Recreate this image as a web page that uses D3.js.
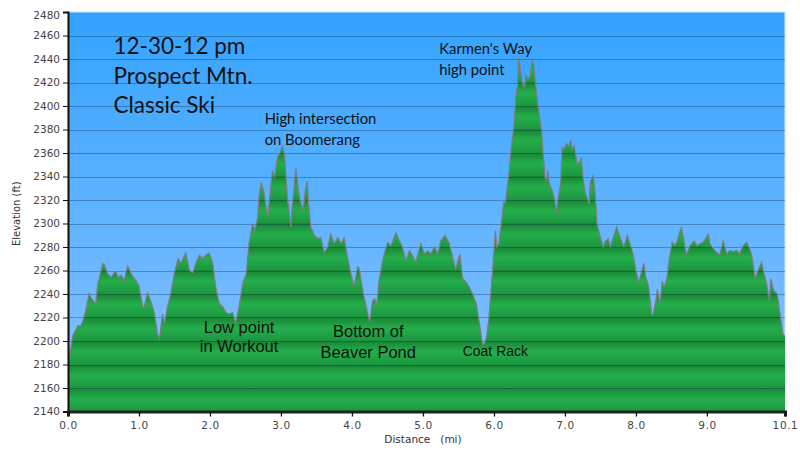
<!DOCTYPE html>
<html><head><meta charset="utf-8">
<script src="https://cdn.jsdelivr.net/npm/d3@7"></script>
<style>html,body{margin:0;padding:0;background:#fff;}svg{display:block;}</style>
</head><body>
<svg id="chart" width="800" height="460"></svg>
<script>
const distance = [0.00,0.03,0.07,0.09,0.14,0.18,0.21,0.25,0.30,0.32,0.37,0.39,0.42,0.44,0.49,0.51,0.56,0.61,0.65,0.68,0.70,0.75,0.79,0.84,0.89,0.96,1.00,1.05,1.07,1.12,1.17,1.22,1.26,1.29,1.33,1.36,1.40,1.45,1.50,1.55,1.59,1.66,1.71,1.76,1.80,1.85,1.90,1.94,1.99,2.04,2.08,2.13,2.18,2.23,2.27,2.32,2.36,2.41,2.46,2.51,2.55,2.60,2.63,2.67,2.69,2.72,2.76,2.81,2.84,2.88,2.91,2.95,3.00,3.02,3.05,3.09,3.14,3.16,3.21,3.26,3.31,3.35,3.37,3.39,3.42,3.47,3.52,3.56,3.61,3.66,3.70,3.75,3.80,3.85,3.89,3.94,3.99,4.03,4.08,4.10,4.15,4.20,4.25,4.29,4.32,4.35,4.38,4.43,4.50,4.55,4.62,4.67,4.71,4.76,4.81,4.85,4.90,4.97,5.02,5.07,5.11,5.16,5.21,5.25,5.31,5.37,5.42,5.46,5.52,5.56,5.61,5.65,5.70,5.75,5.79,5.84,5.87,5.90,5.93,5.98,6.02,6.04,6.07,6.12,6.14,6.16,6.21,6.24,6.28,6.31,6.33,6.35,6.38,6.40,6.43,6.45,6.48,6.51,6.54,6.56,6.59,6.61,6.63,6.67,6.69,6.72,6.74,6.76,6.78,6.82,6.85,6.88,6.90,6.94,6.96,6.99,7.02,7.06,7.08,7.10,7.13,7.15,7.17,7.21,7.23,7.25,7.28,7.31,7.34,7.36,7.40,7.43,7.45,7.50,7.54,7.57,7.61,7.64,7.68,7.73,7.76,7.81,7.83,7.88,7.93,7.96,8.00,8.04,8.07,8.11,8.14,8.18,8.22,8.24,8.28,8.30,8.34,8.37,8.40,8.44,8.46,8.51,8.55,8.58,8.64,8.68,8.71,8.76,8.82,8.86,8.91,8.95,9.02,9.04,9.11,9.18,9.23,9.28,9.32,9.37,9.42,9.46,9.51,9.56,9.61,9.64,9.68,9.72,9.77,9.80,9.84,9.88,9.90,9.94,9.99,10.03,10.07,10.10];
const elevation = [2177,2190,2205,2207,2213,2213,2217,2226,2241,2237,2233,2232,2249,2253,2266,2265,2257,2254,2258,2259,2254,2256,2251,2264,2257,2251,2247,2230,2228,2241,2233,2223,2206,2202,2223,2215,2229,2241,2258,2270,2266,2275,2260,2258,2266,2273,2270,2273,2275,2266,2246,2232,2229,2224,2223,2224,2215,2229,2249,2257,2283,2300,2294,2304,2322,2335,2327,2305,2321,2345,2339,2356,2362,2366,2358,2322,2297,2315,2347,2322,2311,2331,2336,2315,2297,2290,2287,2288,2275,2280,2291,2283,2288,2283,2288,2270,2256,2246,2263,2262,2244,2229,2216,2234,2236,2230,2251,2268,2284,2281,2292,2285,2280,2268,2277,2273,2267,2283,2274,2277,2274,2280,2274,2285,2290,2283,2271,2261,2274,2253,2250,2246,2240,2232,2217,2197,2198,2205,2220,2260,2294,2280,2283,2308,2319,2317,2342,2362,2382,2408,2416,2441,2427,2419,2416,2426,2422,2426,2439,2434,2416,2406,2396,2379,2362,2339,2336,2345,2334,2328,2322,2308,2320,2334,2365,2363,2368,2366,2371,2363,2366,2359,2351,2352,2356,2342,2328,2322,2317,2336,2341,2322,2300,2288,2280,2285,2287,2280,2288,2297,2291,2283,2280,2290,2280,2274,2260,2249,2257,2266,2254,2246,2223,2222,2234,2244,2232,2251,2246,2254,2266,2284,2281,2285,2297,2284,2273,2281,2285,2281,2283,2284,2291,2283,2277,2273,2285,2274,2277,2276,2277,2274,2281,2284,2277,2270,2253,2260,2267,2258,2249,2234,2253,2243,2240,2223,2206,2204];
const yTicks = [2140,2160,2180,2200,2220,2240,2260,2280,2300,2320,2340,2360,2380,2400,2420,2440,2460,2480];
const xTicks = [0,1,2,3,4,5,6,7,8,9,10.1];
const titleLines = ["12-30-12 pm","Prospect Mtn.","Classic Ski"];
const notes = [
  {lines:["High intersection","on Boomerang"], d:2.77, e:2385, font:"Lato", size:14.8, anchor:"start", lh:21},
  {lines:["Karmen's Way","high point"], d:5.23, e:2444, font:"Lato", size:14.8, anchor:"start", lh:20.5},
  {lines:["Low point","in Workout"], d:2.41, e:2207, font:"Liberation Sans", size:16.5, anchor:"middle", lh:19.5},
  {lines:["Bottom of","Beaver Pond"], d:4.23, e:2203, font:"Liberation Sans", size:16.5, anchor:"middle", lh:20.5},
  {lines:["Coat Rack"], d:6.02, e:2187, font:"Liberation Sans", size:14, anchor:"middle", lh:18}
];

const svg = d3.select("#chart");
const M = {left:68, right:785, top:12, bottom:411.5};
const x = d3.scaleLinear().domain([0,10.1]).range([M.left,M.right]);
const y = d3.scaleLinear().domain([2140,2480]).range([M.bottom,M.top]);
const data = distance.map((d,i)=>({d, e:elevation[i]}));

const defs = svg.append("defs");
const bg = defs.append("linearGradient").attr("id","sky").attr("x1",0).attr("y1",0).attr("x2",0).attr("y2",1);
bg.append("stop").attr("offset","0%").attr("stop-color","#33a3ff");
bg.append("stop").attr("offset","100%").attr("stop-color","#8cc3ff");
const gg = defs.append("linearGradient").attr("id","grass").attr("gradientUnits","userSpaceOnUse")
  .attr("x1",0).attr("x2",0).attr("y1",y(2160)).attr("y2",y(2140)).attr("spreadMethod","repeat");
gg.append("stop").attr("offset","0%").attr("stop-color","#198535");
gg.append("stop").attr("offset","45%").attr("stop-color","#24ae4b");
gg.append("stop").attr("offset","100%").attr("stop-color","#1c9640");
defs.append("clipPath").attr("id","clip").append("rect")
  .attr("x",M.left).attr("y",M.top).attr("width",M.right-M.left).attr("height",M.bottom-M.top);

svg.append("rect").attr("x",M.left).attr("y",M.top).attr("width",M.right-M.left).attr("height",M.bottom-M.top)
  .attr("fill","url(#sky)").attr("stroke","#d8e4ee").attr("stroke-width",1);

const g = svg.append("g").attr("clip-path","url(#clip)");
const area = d3.area().x(p=>x(p.d)).y0(M.bottom).y1(p=>y(p.e));
const line = d3.line().x(p=>x(p.d)).y(p=>y(p.e));
g.append("path").datum(data).attr("d",area).attr("fill","url(#grass)");
g.selectAll("line.grid").data(yTicks.slice(1,-1)).join("line").attr("class","grid")
  .attr("x1",M.left).attr("x2",M.right).attr("y1",v=>Math.round(y(v))+0.5).attr("y2",v=>Math.round(y(v))+0.5)
  .attr("stroke","rgba(10,40,70,0.34)").attr("stroke-width",1);
g.append("path").datum(data).attr("d",line).attr("fill","none").attr("stroke","#7d7d7d").attr("stroke-width",1.2);

const yAxis = d3.axisLeft(y).tickValues(yTicks).tickFormat(d3.format("d")).tickSize(5).tickPadding(3);
const ya = svg.append("g").attr("transform",`translate(${M.left},0)`).call(yAxis);
ya.select(".domain").attr("stroke","#111").attr("stroke-width",2);
ya.selectAll(".tick line").attr("stroke","#111");
ya.selectAll(".tick text").attr("font-family","DejaVu Sans").attr("font-size",10.5).attr("fill","#444");
ya.selectAll(".tick").filter(v=>v===2480).select("text").attr("dy","0.62em");

const xAxis = d3.axisBottom(x).tickValues(xTicks).tickFormat(d3.format(".1f")).tickSize(5).tickPadding(5);
const xa = svg.append("g").attr("transform",`translate(0,${M.bottom})`).call(xAxis);
xa.select(".domain").attr("stroke","#222").attr("stroke-width",3);
xa.selectAll(".tick line").attr("stroke","#111").attr("stroke-width",1.3);
xa.selectAll(".tick text").attr("font-family","DejaVu Sans").attr("font-size",10.5).attr("fill","#444").attr("letter-spacing","0.6px");

svg.append("text").attr("transform",`translate(20,${(M.top+M.bottom)/2+2}) rotate(-90)`)
  .attr("text-anchor","middle").attr("font-family","DejaVu Sans").attr("font-size",10).attr("fill","#333")
  .text("Elevation (ft)");
svg.append("text").attr("x",423).attr("y",443).attr("text-anchor","middle").attr("font-family","DejaVu Sans")
  .attr("font-size",10.5).attr("fill","#333").style("white-space","pre").text("Distance   (mi)");

svg.append("g").selectAll("text").data(titleLines).join("text")
  .attr("x",x(0.64)).attr("y",(t,i)=>y(2444)+i*29.5)
  .attr("font-family","Lato").attr("font-size",22.5).attr("fill","#111").text(t=>t);

notes.forEach(n=>{
  svg.append("g").selectAll("text").data(n.lines).join("text")
    .attr("x",x(n.d)).attr("y",(t,i)=>y(n.e)+i*n.lh)
    .attr("text-anchor",n.anchor).attr("font-family",n.font).attr("font-size",n.size).attr("fill","#111").text(t=>t);
});
</script>
</body></html>
